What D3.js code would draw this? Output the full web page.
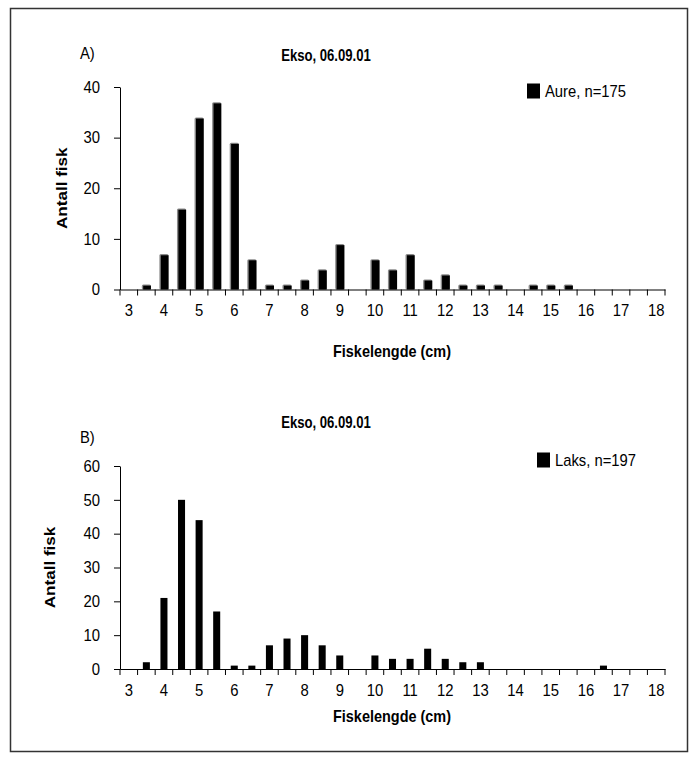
<!DOCTYPE html>
<html>
<head>
<meta charset="utf-8">
<script src="https://cdn.jsdelivr.net/npm/d3@7"></script>
<style>
  html, body { margin: 0; padding: 0; background: #fff; }
  svg { display: block; font-family: "Liberation Sans", Arial, Helvetica, sans-serif; }
</style>
</head>
<body>
<svg id="chart" width="695" height="760"></svg>
<script>
// Fish length distributions, Ekso 06.09.01 — two panels (trout / salmon).
const LENGTHS = ["3","3.5","4","4.5","5","5.5","6","6.5","7","7.5","8","8.5","9","9.5",
  "10","10.5","11","11.5","12","12.5","13","13.5","14","14.5","15","15.5","16","16.5",
  "17","17.5","18"];
const AURE = [0,1,7,16,34,37,29,6,1,1,2,4,9,0,6,4,7,2,3,1,1,1,0,1,1,1,0,0,0,0,0];
const LAKS = [0,2,21,50,44,17,1,1,7,9,10,7,4,0,4,3,3,6,3,2,2,0,0,0,0,0,0,1,0,0,0];
const X_LABELS = ["3","4","5","6","7","8","9","10","11","12","13","14","15","16","17","18"];
const Y_TICKS_A = [0,10,20,30,40];
const Y_TICKS_B = [0,10,20,30,40,50,60];

const svg = d3.select("#chart");

// the source picture is stretched vertically: squeeze horizontal text a bit
function condense(sel, k) {
  sel.each(function () {
    const w = this.getComputedTextLength();
    d3.select(this).attr("textLength", w * k).attr("lengthAdjust", "spacingAndGlyphs");
  });
  return sel;
}

// outer frame
svg.append("rect").attr("x", 10.5).attr("y", 8.5).attr("width", 677).attr("height", 743)
  .attr("fill", "none").attr("stroke", "#333").attr("stroke-width", 1.5);

function panel(o) {
  const x = d3.scaleBand(LENGTHS, [120, 665]);
  const y = d3.scaleLinear([0, o.max], [o.y0, o.y1]);
  const g = svg.append("g");

  // bars
  const bw = x.bandwidth() * o.barFrac;
  const bars = g.append("g").selectAll("g").data(LENGTHS.map((c, i) => ({c, v: o.values[i]})))
    .join("g").filter(d => d.v > 0);
  if (o.bevel) {
    bars.append("rect")
      .attr("x", d => x(d.c) + (x.bandwidth() - bw) / 2).attr("y", d => y(d.v))
      .attr("width", bw).attr("height", d => y(0) - y(d.v))
      .attr("rx", 1.5).attr("fill", "#8c8c8c");
    bars.append("rect")
      .attr("x", d => x(d.c) + (x.bandwidth() - bw) / 2 + 1.4).attr("y", d => y(d.v) + 1.2)
      .attr("width", bw - 1.4).attr("height", d => Math.max(0, y(0) - y(d.v) - 1.2))
      .attr("fill", "#000");
  } else {
    bars.append("rect")
      .attr("x", d => x(d.c) + (x.bandwidth() - bw) / 2).attr("y", d => y(d.v))
      .attr("width", bw).attr("height", d => y(0) - y(d.v))
      .attr("fill", "#000");
  }

  // y axis
  const ya = g.append("g").attr("transform", "translate(120,0)")
    .call(d3.axisLeft(y).tickValues(o.yTicks).tickSize(6).tickSizeOuter(0).tickPadding(14));
  // x axis: labels on integer lengths, ticks on band boundaries
  const xa = g.append("g").attr("transform", `translate(0,${o.y0})`)
    .call(d3.axisBottom(x).tickValues(X_LABELS).tickSize(0).tickPadding(15));
  xa.append("g").selectAll("line").data(LENGTHS.map(c => x(c)).concat([x.range()[1]]))
    .join("line").attr("x1", d => d).attr("x2", d => d).attr("y1", 0).attr("y2", 6)
    .attr("stroke", "#000");
  [ya, xa].forEach(a => {
    condense(a.selectAll("text").attr("font-size", 16.5).attr("fill", "#000")
      .attr("font-family", "'Liberation Sans', Arial, sans-serif"), 0.9);
    a.select(".domain").attr("stroke", "#000");
    a.selectAll(".tick line").attr("stroke", "#000");
  });

  // titles and labels
  condense(g.append("text").attr("x", 326).attr("y", o.titleY).attr("text-anchor", "middle")
    .attr("font-weight", "bold").attr("font-size", 16).text("Ekso, 06.09.01"), 0.82);
  condense(g.append("text").attr("x", 80).attr("y", o.letterY).attr("font-size", 17)
    .text(o.letter), 0.87);
  condense(g.append("text").attr("x", 392).attr("y", o.xTitleY).attr("text-anchor", "middle")
    .attr("font-weight", "bold").attr("font-size", 17).text("Fiskelengde (cm)"), 0.85);
  condense(g.append("text")
    .attr("transform", `translate(${o.yTitleX},${(o.y0 + o.y1) / 2}) rotate(-90)`)
    .attr("text-anchor", "middle").attr("font-weight", "bold").attr("font-size", 15)
    .text("Antall fisk"), 1.14);

  // legend
  g.append("rect").attr("x", o.legX).attr("y", o.legY - 7.5).attr("width", 13).attr("height", 15)
    .attr("fill", "#000");
  condense(g.append("text").attr("x", o.legX + 18).attr("y", o.legY + 6).attr("font-size", 17)
    .text(o.legend), 0.87);
}

panel({values: AURE, max: 40, y0: 289.5, y1: 87, yTicks: Y_TICKS_A, barFrac: 0.52, bevel: true,
  titleY: 61, letter: "A)", letterY: 59, xTitleY: 357, yTitleX: 67,
  legX: 527, legY: 91, legend: "Aure, n=175"});
panel({values: LAKS, max: 60, y0: 669, y1: 466, yTicks: Y_TICKS_B, barFrac: 0.4, bevel: false,
  titleY: 428, letter: "B)", letterY: 443, xTitleY: 722, yTitleX: 55,
  legX: 537, legY: 460, legend: "Laks, n=197"});
</script>
</body>
</html>
